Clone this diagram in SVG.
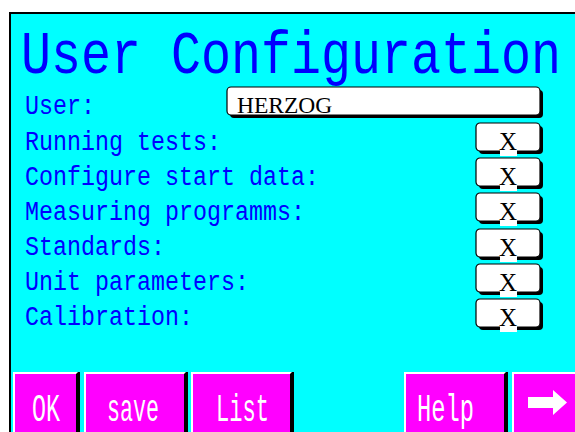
<svg xmlns="http://www.w3.org/2000/svg" width="575" height="432" viewBox="0 0 575 432">
  <style>
    .title { font-family: "Liberation Mono", "DejaVu Sans Mono", monospace; font-size: 50px; fill: #0000ff; }
    .label { font-family: "Liberation Mono", "DejaVu Sans Mono", monospace; font-size: 27px; fill: #0000ff; }
    .field { font-family: "Liberation Serif", "Times New Roman", serif; fill: #000; }
    .btxt { font-family: "Liberation Mono", "DejaVu Sans Mono", monospace; font-size: 38px; fill: #fff; }
    .box { fill: #fff; stroke: #000; stroke-width: 1.2; }
    .shadow { fill: #000; }
    .key { fill: #ff00ff; }
    .hl { fill: #fff; }
  </style>
  <defs>
    <!-- checkbox: shadowed rounded white box -->
    <g id="check">
      <rect class="shadow" x="3" y="3" width="64" height="28" rx="4"/>
      <rect class="box" x="0" y="0" width="64" height="28" rx="4"/>
      <rect fill="#fff" x="24" y="25" width="17" height="8"/>
      <text class="field" x="32" y="27" font-size="25" text-anchor="middle">X</text>
    </g>
  </defs>

  <rect x="0" y="0" width="575" height="432" fill="#fff"/>
  <!-- screen panel -->
  <rect x="10" y="13" width="580" height="440" fill="#00ffff" stroke="#000" stroke-width="2"/>

  <!-- heading, stretched vertically for the tall LCD glyphs -->
  <text class="title" transform="translate(21 73) scale(1 1.24)" x="0" y="0">User Configuration</text>

  <g id="labels">
    <text class="label" x="25" y="114" textLength="70" lengthAdjust="spacingAndGlyphs">User:</text>
    <text class="label" x="25" y="150" textLength="196" lengthAdjust="spacingAndGlyphs">Running tests:</text>
    <text class="label" x="25" y="185" textLength="294" lengthAdjust="spacingAndGlyphs">Configure start data:</text>
    <text class="label" x="25" y="220" textLength="280" lengthAdjust="spacingAndGlyphs">Measuring programms:</text>
    <text class="label" x="25" y="255" textLength="140" lengthAdjust="spacingAndGlyphs">Standards:</text>
    <text class="label" x="25" y="290" textLength="224" lengthAdjust="spacingAndGlyphs">Unit parameters:</text>
    <text class="label" x="25" y="325" textLength="168" lengthAdjust="spacingAndGlyphs">Calibration:</text>
  </g>

  <g id="user-field">
    <rect class="shadow" x="230" y="90" width="313" height="28" rx="4"/>
    <rect class="box" x="227" y="87" width="313" height="28" rx="4"/>
    <text class="field" x="237" y="113" font-size="23.5">HERZOG</text>
  </g>

  <g id="checks">
    <use href="#check" x="476" y="123"/>
    <use href="#check" x="476" y="158"/>
    <use href="#check" x="476" y="193"/>
    <use href="#check" x="476" y="229"/>
    <use href="#check" x="476" y="264"/>
    <use href="#check" x="476" y="299"/>
  </g>

  <!-- function keys -->
  <g id="key-ok">
    <rect class="shadow" x="13" y="372" width="67" height="62"/>
    <polygon class="hl" points="13,372 78,372 76,374 15,374 15,434 13,434"/>
    <rect class="key" x="15" y="374" width="61" height="60"/>
    <text class="btxt" x="32" y="421" textLength="28" lengthAdjust="spacingAndGlyphs">OK</text>
  </g>
  <g id="key-save">
    <rect class="shadow" x="84" y="372" width="104" height="62"/>
    <polygon class="hl" points="84,372 186,372 184,374 86,374 86,434 84,434"/>
    <rect class="key" x="86" y="374" width="98" height="60"/>
    <text class="btxt" x="107" y="421" textLength="52" lengthAdjust="spacingAndGlyphs">save</text>
  </g>
  <g id="key-list">
    <rect class="shadow" x="191" y="372" width="103" height="62"/>
    <polygon class="hl" points="191,372 292,372 290,374 193,374 193,434 191,434"/>
    <rect class="key" x="193" y="374" width="97" height="60"/>
    <text class="btxt" x="216" y="421" textLength="53" lengthAdjust="spacingAndGlyphs">List</text>
  </g>
  <g id="key-help">
    <rect class="shadow" x="404" y="372" width="104" height="62"/>
    <polygon class="hl" points="404,372 506,372 504,374 406,374 406,434 404,434"/>
    <rect class="key" x="406" y="374" width="98" height="60"/>
    <text class="btxt" x="417" y="421" textLength="57" lengthAdjust="spacingAndGlyphs">Help</text>
  </g>
  <g id="key-next">
    <rect class="shadow" x="512" y="372" width="70" height="62"/>
    <polygon class="hl" points="512,372 582,372 582,374 514,374 514,434 512,434"/>
    <rect class="key" x="514" y="374" width="68" height="60"/>
    <polygon fill="#fff" points="528,397 553,397 553,390 567,402.5 553,415 553,408 528,408"/>
  </g>
</svg>
